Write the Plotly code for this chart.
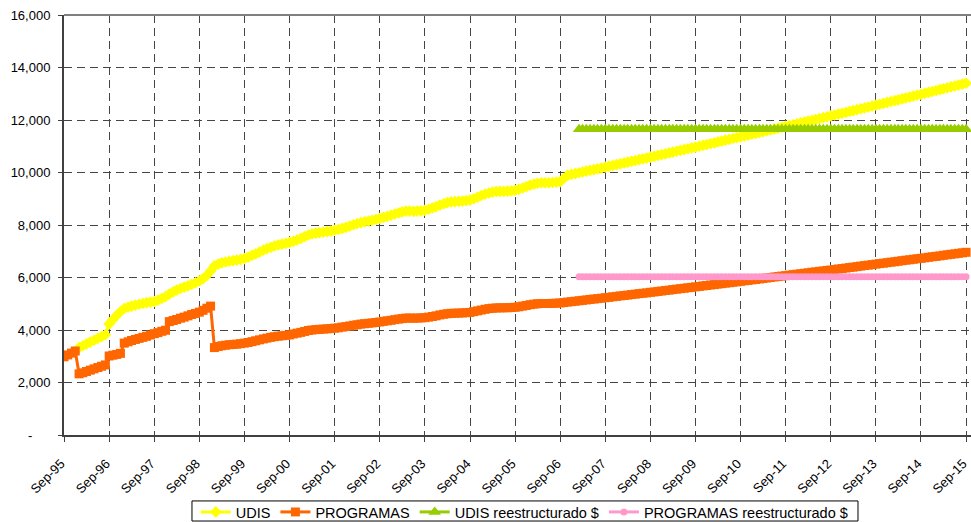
import pandas as pd
import plotly.graph_objects as go

# Monthly balances (pesos), UDIS series from Jan-96, PROGRAMAS from Sep-95
udis = [
    3330, 3400, 3470, 3540, 3610, 3680, 3750, 3820,
    4230, 4400, 4560, 4700, 4820, 4870, 4910, 4950, 4980, 5010, 5040, 5060,
    5080, 5140, 5200, 5270, 5370, 5450, 5520, 5580, 5630, 5680, 5740, 5800,
    5870, 5960, 6080, 6250, 6440, 6510, 6560, 6590, 6620, 6640, 6660, 6690,
    6720, 6780, 6840, 6900, 6970, 7040, 7100, 7150, 7200, 7240, 7270, 7300,
    7340, 7380, 7430, 7490, 7560, 7620, 7660, 7690, 7710, 7730, 7750, 7770,
    7800, 7830, 7870, 7910, 7960, 8010, 8050, 8090, 8120, 8150, 8180, 8210,
    8250, 8290, 8330, 8370, 8420, 8460, 8500, 8530, 8530, 8520, 8530, 8540,
    8560, 8600, 8650, 8700, 8760, 8810, 8850, 8880, 8890, 8900, 8910, 8930,
    8950, 9000, 9060, 9120, 9180, 9220, 9250, 9270, 9280, 9280, 9290, 9300,
    9320, 9360, 9410, 9460, 9520, 9560, 9590, 9610, 9610, 9610, 9620, 9630,
    9650, 9780, 9900, 9930, 9960, 9990, 10020, 10050, 10080, 10110, 10140, 10170,
    10205, 10235, 10270, 10300, 10330, 10365, 10395, 10425, 10455, 10490, 10520, 10550,
    10585, 10615, 10650, 10680, 10710, 10745, 10775, 10810, 10840, 10870, 10905, 10935,
    10970, 11000, 11035, 11065, 11100, 11130, 11165, 11195, 11230, 11260, 11295, 11325,
    11360, 11390, 11425, 11460, 11490, 11525, 11555, 11590, 11625, 11655, 11690, 11720,
    11755, 11790, 11820, 11855, 11890, 11920, 11955, 11990, 12020, 12055, 12090, 12120,
    12155, 12190, 12225, 12255, 12290, 12325, 12360, 12395, 12425, 12460, 12495, 12530,
    12565, 12600, 12635, 12670, 12705, 12735, 12770, 12805, 12840, 12875, 12910, 12945,
    12980, 13015, 13050, 13085, 13120, 13155, 13190, 13225, 13260, 13295, 13330, 13365,
    13400,
]

programas = [
    2980, 3050, 3120, 3200, 2330, 2370, 2420, 2470, 2520, 2570, 2620, 2670,
    3010, 3040, 3070, 3110, 3500, 3550, 3600, 3640, 3680, 3720, 3760, 3810,
    3860, 3900, 3950, 3990, 4320, 4360, 4400, 4450, 4490, 4540, 4590, 4630,
    4680, 4750, 4830, 4910, 3330, 3370, 3400, 3420, 3440, 3450, 3460, 3480,
    3500, 3525, 3555, 3590, 3625, 3660, 3690, 3720, 3745, 3765, 3780, 3795,
    3815, 3850, 3880, 3910, 3945, 3980, 4000, 4015, 4025, 4035, 4045, 4055,
    4070, 4085, 4110, 4130, 4155, 4180, 4200, 4225, 4240, 4255, 4270, 4285,
    4305, 4330, 4350, 4370, 4395, 4415, 4435, 4455, 4455, 4450, 4455, 4460,
    4470, 4490, 4515, 4540, 4575, 4600, 4620, 4635, 4640, 4645, 4650, 4660,
    4670, 4700, 4730, 4760, 4790, 4815, 4830, 4840, 4845, 4845, 4850, 4855,
    4865, 4885, 4910, 4935, 4965, 4985, 5000, 5010, 5010, 5010, 5015, 5020,
    5030, 5045, 5065, 5080, 5095, 5115, 5130, 5145, 5165, 5180, 5195, 5210,
    5230, 5245, 5265, 5280, 5300, 5315, 5330, 5350, 5365, 5385, 5400, 5415,
    5435, 5450, 5470, 5485, 5505, 5520, 5540, 5555, 5575, 5590, 5610, 5625,
    5645, 5660, 5680, 5695, 5715, 5730, 5750, 5765, 5785, 5800, 5820, 5835,
    5855, 5875, 5890, 5910, 5925, 5945, 5965, 5980, 6000, 6020, 6035, 6055,
    6070, 6090, 6110, 6125, 6145, 6160, 6180, 6200, 6215, 6235, 6250, 6270,
    6285, 6305, 6325, 6340, 6360, 6380, 6395, 6415, 6435, 6455, 6470, 6490,
    6510, 6530, 6545, 6565, 6585, 6600, 6620, 6640, 6660, 6675, 6695, 6715,
    6730, 6750, 6770, 6790, 6805, 6825, 6845, 6865, 6885, 6900, 6920, 6940,
    6960,
]

# Restructured balances, flat from Feb-07 to Sep-15
udis_reest = [
    11650, 11650, 11650, 11650, 11650, 11650, 11650, 11650, 11650, 11650, 11650, 11650, 11650,
    11650, 11650, 11650, 11650, 11650, 11650, 11650, 11650, 11650, 11650, 11650, 11650, 11650,
    11650, 11650, 11650, 11650, 11650, 11650, 11650, 11650, 11650, 11650, 11650, 11650, 11650,
    11650, 11650, 11650, 11650, 11650, 11650, 11650, 11650, 11650, 11650, 11650, 11650, 11650,
    11650, 11650, 11650, 11650, 11650, 11650, 11650, 11650, 11650, 11650, 11650, 11650, 11650,
    11650, 11650, 11650, 11650, 11650, 11650, 11650, 11650, 11650, 11650, 11650, 11650, 11650,
    11650, 11650, 11650, 11650, 11650, 11650, 11650, 11650, 11650, 11650, 11650, 11650, 11650,
    11650, 11650, 11650, 11650, 11650, 11650, 11650, 11650, 11650, 11650, 11650, 11650, 11650,
]
programas_reest = [
    6030, 6030, 6030, 6030, 6030, 6030, 6030, 6030, 6030, 6030, 6030, 6030, 6030,
    6030, 6030, 6030, 6030, 6030, 6030, 6030, 6030, 6030, 6030, 6030, 6030, 6030,
    6030, 6030, 6030, 6030, 6030, 6030, 6030, 6030, 6030, 6030, 6030, 6030, 6030,
    6030, 6030, 6030, 6030, 6030, 6030, 6030, 6030, 6030, 6030, 6030, 6030, 6030,
    6030, 6030, 6030, 6030, 6030, 6030, 6030, 6030, 6030, 6030, 6030, 6030, 6030,
    6030, 6030, 6030, 6030, 6030, 6030, 6030, 6030, 6030, 6030, 6030, 6030, 6030,
    6030, 6030, 6030, 6030, 6030, 6030, 6030, 6030, 6030, 6030, 6030, 6030, 6030,
    6030, 6030, 6030, 6030, 6030, 6030, 6030, 6030, 6030, 6030, 6030, 6030, 6030,
]

udis_start = "1996-01-01"
programas_start = "1995-09-01"
reest_start = "2007-02-01"

x_tick_labels = ["Sep-95", "Sep-96", "Sep-97", "Sep-98", "Sep-99", "Sep-00", "Sep-01",
                 "Sep-02", "Sep-03", "Sep-04", "Sep-05", "Sep-06", "Sep-07", "Sep-08",
                 "Sep-09", "Sep-10", "Sep-11", "Sep-12", "Sep-13", "Sep-14", "Sep-15"]
y_tick_values = [0, 2000, 4000, 6000, 8000, 10000, 12000, 14000, 16000]
y_tick_labels = ["-\u00a0\u00a0\u00a0\u00a0\u00a0", "2,000", "4,000", "6,000", "8,000",
                 "10,000", "12,000", "14,000", "16,000"]


def months(start, n):
    return pd.date_range(start, periods=n, freq="MS")


FONT = "Arial, 'Liberation Sans', sans-serif"
GRID = "#454545"
AXIS = "#404040"

fig = go.Figure()
# name, values, first month, colour, marker symbol, marker size
series = [
    ("UDIS", udis, udis_start, "#FFFF00", "diamond", 9),
    ("PROGRAMAS", programas, programas_start, "#FF6600", "square", 9),
    ("UDIS reestructurado $", udis_reest, reest_start, "#99CC00", "triangle-up", 11),
    ("PROGRAMAS reestructurado $", programas_reest, reest_start, "#FF99CC", "circle", 7),
]
for name, values, start, color, symbol, size in series:
    fig.add_trace(go.Scatter(
        x=months(start, len(values)), y=values, name=name,
        mode="lines+markers",
        line=dict(color=color, width=3),
        marker=dict(symbol=symbol, size=size, color=color, line=dict(width=0)),
    ))

tick_dates = pd.date_range("1995-09-01", periods=len(x_tick_labels), freq="12MS")

fig.update_layout(
    width=971, height=522,
    margin=dict(l=64, r=0, t=15, b=87, autoexpand=False),
    paper_bgcolor="white", plot_bgcolor="white",
    font=dict(family=FONT, size=12, color="black"),
    showlegend=True,
    legend=dict(
        orientation="h", x=0.508, xanchor="center", y=-0.1833, yanchor="middle",
        borderwidth=0, bgcolor="rgba(0,0,0,0)", itemsizing="trace",
        font=dict(family=FONT, size=14.5, color="black"),
    ),
    xaxis=dict(
        type="date", range=["1995-09-01", "2015-10-11"],
        tickmode="array", tickvals=tick_dates, ticktext=x_tick_labels,
        tickangle=-45, tickfont=dict(family=FONT, size=13, color="black"),
        ticklabeloverflow="allow", ticklabelstandoff=9, ticklabelshift=-3,
        showgrid=True, gridcolor=GRID, gridwidth=1, griddash="8px,5px",
        showline=True, linecolor=AXIS, linewidth=2,
        ticks="outside", ticklen=5, tickcolor=AXIS, tickwidth=1,
        zeroline=False,
    ),
    yaxis=dict(
        range=[0, 16000], tickmode="array",
        tickvals=y_tick_values, ticktext=y_tick_labels,
        tickfont=dict(family=FONT, size=13, color="black"),
        showgrid=True, gridcolor=GRID, gridwidth=1, griddash="8px,5px",
        showline=True, linecolor=AXIS, linewidth=2,
        ticks="outside", ticklen=4, tickcolor=AXIS, tickwidth=1,
        ticklabelstandoff=5,
        zeroline=False,
    ),
    shapes=[
        # plot-area top border
        dict(type="line", xref="paper", yref="paper", x0=0, x1=1, y0=1, y1=1,
             line=dict(color="#808080", width=2)),
        # legend frame
        dict(type="rect", xref="paper", yref="paper", x0=0.1411, x1=0.8754,
             y0=-0.2048, y1=-0.157, line=dict(color="black", width=1),
             fillcolor="rgba(0,0,0,0)", layer="above"),
    ],
)

fig.write_html("out.html")
